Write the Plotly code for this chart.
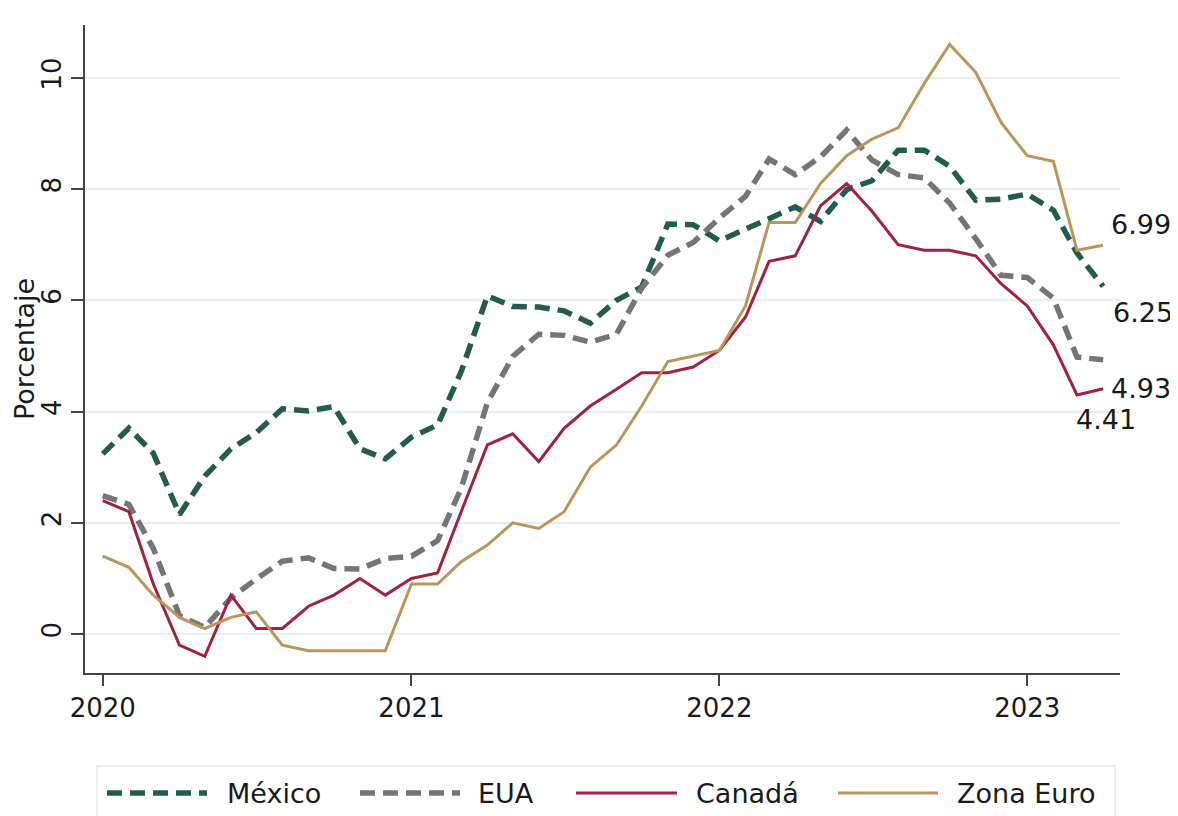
import plotly.graph_objects as go
import pandas as pd

# ---------------- data ----------------
start_month = "2020-01-01"
n_months = 40
meses = pd.date_range(start_month, periods=n_months, freq="MS")

mexico = [3.24, 3.70, 3.25, 2.15, 2.84, 3.33, 3.62, 4.05, 4.01, 4.09, 3.33, 3.15,
          3.54, 3.76, 4.72, 6.08, 5.89, 5.88, 5.81, 5.59, 6.00, 6.24, 7.37, 7.36,
          7.07, 7.28, 7.45, 7.68, 7.42, 7.99, 8.15, 8.70, 8.70, 8.41, 7.80, 7.82,
          7.91, 7.62, 6.85, 6.25]
eua = [2.49, 2.33, 1.54, 0.33, 0.12, 0.65, 0.99, 1.31, 1.37, 1.18, 1.17, 1.36,
       1.40, 1.68, 2.62, 4.16, 4.99, 5.39, 5.37, 5.25, 5.39, 6.22, 6.81, 7.04,
       7.48, 7.87, 8.54, 8.26, 8.58, 9.06, 8.52, 8.26, 8.20, 7.75, 7.11, 6.45,
       6.41, 6.04, 4.98, 4.93]
canada = [2.4, 2.2, 0.9, -0.2, -0.4, 0.7, 0.1, 0.1, 0.5, 0.7, 1.0, 0.7,
          1.0, 1.1, 2.2, 3.4, 3.6, 3.1, 3.7, 4.1, 4.4, 4.7, 4.7, 4.8,
          5.1, 5.7, 6.7, 6.8, 7.7, 8.1, 7.6, 7.0, 6.9, 6.9, 6.8, 6.3,
          5.9, 5.2, 4.3, 4.41]
zona_euro = [1.4, 1.2, 0.7, 0.3, 0.1, 0.3, 0.4, -0.2, -0.3, -0.3, -0.3, -0.3,
             0.9, 0.9, 1.3, 1.6, 2.0, 1.9, 2.2, 3.0, 3.4, 4.1, 4.9, 5.0,
             5.1, 5.9, 7.4, 7.4, 8.1, 8.6, 8.9, 9.1, 9.9, 10.6, 10.1, 9.2,
             8.6, 8.5, 6.9, 6.99]

series_names = ["México", "EUA", "Canadá", "Zona Euro"]
year_ticks = ["2020-01-01", "2021-01-01", "2022-01-01", "2023-01-01"]
year_labels = ["2020", "2021", "2022", "2023"]
y_ticks = [0, 2, 4, 6, 8, 10]
y_title = "Porcentaje"

# ---------------- style ----------------
OFF = 8                      # page body margin of the html page
W, H = 1178 - OFF, 816 - OFF
L, R, T, B = 85 - OFF, 58, 25 - OFF, 143
PW, PH = W - L - R, H - T - B
FONT = "DejaVu Sans"
TXT = "#1a1a1a"
AX = "#444444"
colors = ["#235B4E", "#757575", "#9F2241", "#BC955C"]
widths = [5.5, 5.5, 3, 3]
dashes = ["15px,8px", "15px,8px", "solid", "solid"]
all_series = [mexico, eua, canada, zona_euro]

fig = go.Figure()
for name, vals, c, w, d in zip(series_names, all_series, colors, widths, dashes):
    fig.add_trace(go.Scatter(x=meses, y=vals, mode="lines", name=name,
                             line=dict(color=c, width=w, dash=d),
                             showlegend=False))

# end-of-series value labels (offsets in px: xshift, yshift)
label_offsets = [(8, -26), (6, -29), (-29, -31), (6, 21)]
for vals, (dx, dy) in zip(all_series, label_offsets):
    fig.add_annotation(x=meses[-1], y=vals[-1], xref="x", yref="y",
                       text=f"{vals[-1]:.2f}", showarrow=False,
                       xanchor="left", yanchor="middle", xshift=dx, yshift=dy,
                       font=dict(family=FONT, size=27, color=TXT))

# y-axis title
fig.add_annotation(x=0, y=0.5, xref="paper", yref="paper", text=y_title,
                   textangle=-90, showarrow=False, xanchor="center",
                   yanchor="middle", xshift=-61,
                   font=dict(family=FONT, size=27, color=TXT))

# custom legend (positions given in page pixels)
def px_x(px):
    return (px - OFF - L) / PW

def px_y(py):
    return (OFF + H - B - py) / PH

fig.add_shape(type="rect", xref="paper", yref="paper",
              x0=px_x(97), x1=px_x(1115), y0=px_y(766), y1=px_y(840),
              line=dict(color="#e3eaee", width=1.5), fillcolor="rgba(0,0,0,0)")
leg_samples = [(107, 207), (360, 460), (576, 677), (838, 938)]
leg_text_x = [225, 476, 694, 955]
leg_y = 793
for name, c, w, d, (s0, s1), tx in zip(series_names, colors, widths, dashes,
                                       leg_samples, leg_text_x):
    fig.add_shape(type="line", xref="paper", yref="paper",
                  x0=px_x(s0), x1=px_x(s1), y0=px_y(leg_y), y1=px_y(leg_y),
                  line=dict(color=c, width=w, dash=d))
    fig.add_annotation(x=px_x(tx), y=px_y(leg_y), xref="paper", yref="paper",
                       text=name, showarrow=False, xanchor="left",
                       yanchor="middle",
                       font=dict(family=FONT, size=27, color=TXT))

fig.update_layout(
    width=W, height=H,
    margin=dict(l=L, r=R, t=T, b=B, pad=0),
    paper_bgcolor="white", plot_bgcolor="white",
    font=dict(family=FONT, size=26, color=TXT),
    showlegend=False,
    xaxis=dict(type="date", range=["2019-12-11", "2023-04-21"],
               tickvals=year_ticks, ticktext=year_labels,
               ticks="outside", ticklen=11, tickwidth=2, tickcolor=AX,
               showline=True, linecolor=AX, linewidth=2,
               showgrid=False, zeroline=False,
               tickfont=dict(family=FONT, size=26, color=TXT)),
    yaxis=dict(range=[-0.70, 10.95], tickvals=y_ticks,
               ticks="outside", ticklen=12, tickwidth=2, tickcolor=AX,
               tickangle=-90,
               showline=True, linecolor=AX, linewidth=2,
               showgrid=True, gridcolor="#e8eff3", gridwidth=2,
               zeroline=False,
               tickfont=dict(family=FONT, size=26, color=TXT)),
)

fig.write_html("out.html")
